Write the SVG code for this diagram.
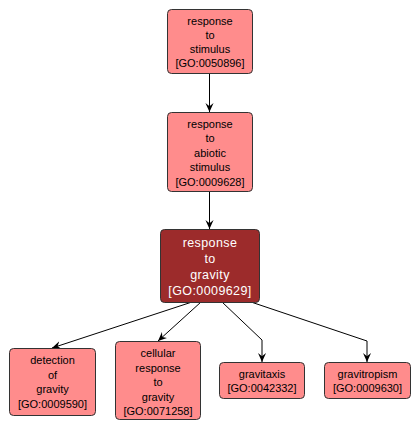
<svg xmlns="http://www.w3.org/2000/svg" width="420" height="431" viewBox="0 0 420 431">
<style>
.n rect{fill:#ff8c8c;stroke:#333;stroke-width:1}
.n text{font-family:"Liberation Sans",Arial,sans-serif;font-size:11px;fill:#000;text-anchor:middle;dominant-baseline:central}
#n3 rect{fill:#9c2b2b}
#n3 text{fill:#fff;font-size:12.5px;letter-spacing:0.4px}
.e path{fill:none;stroke:#000;stroke-width:1;marker-end:url(#a)}
</style>
<defs>
<marker id="a" viewBox="0 0 10 10" refX="10" refY="5" markerWidth="9" markerHeight="9" markerUnits="userSpaceOnUse" orient="auto">
<path d="M0,0.5 L10,5 L0,9.5 L3.5,5 z" fill="#000" stroke="none"/>
</marker>
</defs>
<g class="e">
<path d="M209.5,74 L209.5,112"/>
<path d="M209.5,192 L209.5,229"/>
<path d="M192,302 L52,348"/>
<path d="M201,302 L158,341"/>
<path d="M222,302 L262,340 L262,362"/>
<path d="M251,302 L367,341 L367,362"/>
</g>
<g id="n1" class="n"><rect x="167.5" y="9.5" width="85" height="64" rx="4"/>
<text x="210" y="21">response</text><text x="210" y="35">to</text><text x="210" y="49">stimulus</text><text x="210" y="63">[GO:0050896]</text></g>
<g id="n2" class="n"><rect x="167.5" y="112.5" width="85" height="79" rx="4"/>
<text x="210" y="123.5">response</text><text x="210" y="138">to</text><text x="210" y="152.5">abiotic</text><text x="210" y="167">stimulus</text><text x="210" y="181.5">[GO:0009628]</text></g>
<g id="n3" class="n"><rect x="160.5" y="229.5" width="99" height="73" rx="4"/>
<text x="210" y="242.5">response</text><text x="210" y="258.5">to</text><text x="210" y="274.5">gravity</text><text x="210" y="291">[GO:0009629]</text></g>
<g id="n4" class="n"><rect x="9.5" y="348.5" width="86" height="67" rx="4"/>
<text x="52.5" y="360">detection</text><text x="52.5" y="374.5">of</text><text x="52.5" y="389">gravity</text><text x="52.5" y="403.5">[GO:0009590]</text></g>
<g id="n5" class="n"><rect x="115.5" y="341.5" width="85" height="78" rx="4"/>
<text x="158" y="353">cellular</text><text x="158" y="367.5">response</text><text x="158" y="382">to</text><text x="158" y="396.5">gravity</text><text x="158" y="410.5">[GO:0071258]</text></g>
<g id="n6" class="n"><rect x="219.5" y="362.5" width="85" height="36" rx="4"/>
<text x="262" y="374">gravitaxis</text><text x="262" y="387.5">[GO:0042332]</text></g>
<g id="n7" class="n"><rect x="324.5" y="362.5" width="86" height="36" rx="4"/>
<text x="367.5" y="374">gravitropism</text><text x="367.5" y="387.5">[GO:0009630]</text></g>
</svg>
